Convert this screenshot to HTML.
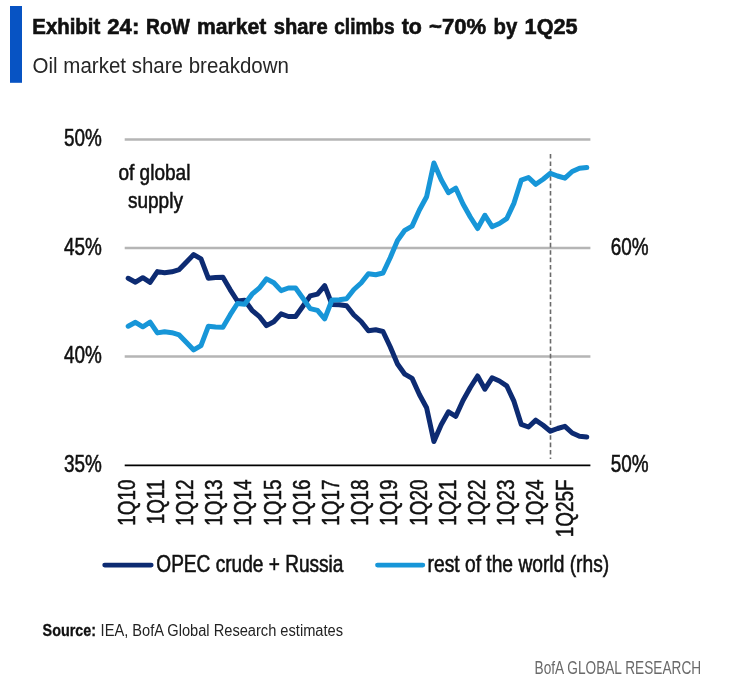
<!DOCTYPE html>
<html lang="en"><head><meta charset="utf-8"><title>Exhibit 24: RoW market share climbs to ~70% by 1Q25</title>
<style>
html,body{margin:0;padding:0;background:#fff;}
body{width:730px;height:698px;overflow:hidden;}
svg{display:block;font-family:"Liberation Sans",Arial,sans-serif;}
</style></head><body>
<svg width="730" height="698" viewBox="0 0 730 698">
<rect x="0" y="0" width="730" height="698" fill="#ffffff"/>
<rect x="10" y="6" width="12" height="76.8" fill="#0753c3"/>

<g font-weight="bold" font-size="21.5" fill="#111111" stroke="#111111" stroke-width="0.6">
<text x="32.3" y="33.8" textLength="68.0" lengthAdjust="spacingAndGlyphs">Exhibit</text>
<text x="107.3" y="33.8" textLength="32.0" lengthAdjust="spacingAndGlyphs">24:</text>
<text x="146.1" y="33.8" textLength="43.7" lengthAdjust="spacingAndGlyphs">RoW</text>
<text x="197.0" y="33.8" textLength="69.3" lengthAdjust="spacingAndGlyphs">market</text>
<text x="273.8" y="33.8" textLength="53.8" lengthAdjust="spacingAndGlyphs">share</text>
<text x="334.3" y="33.8" textLength="60.2" lengthAdjust="spacingAndGlyphs">climbs</text>
<text x="401.7" y="33.8" textLength="20.2" lengthAdjust="spacingAndGlyphs">to</text>
<text x="429.1" y="33.8" textLength="57.1" lengthAdjust="spacingAndGlyphs">~70%</text>
<text x="493.6" y="33.8" textLength="23.7" lengthAdjust="spacingAndGlyphs">by</text>
<text x="524.6" y="33.8" textLength="53.0" lengthAdjust="spacingAndGlyphs">1Q25</text>
</g>
<text x="32.6" y="73.2" font-size="21.8" fill="#262626" textLength="256.4" lengthAdjust="spacingAndGlyphs">Oil market share breakdown</text>
<line x1="124.7" x2="590.4" y1="139.5" y2="139.5" stroke="#b5b5b5" stroke-width="2.4"/>
<line x1="124.7" x2="590.4" y1="248.0" y2="248.0" stroke="#b5b5b5" stroke-width="2.4"/>
<line x1="124.7" x2="590.4" y1="356.5" y2="356.5" stroke="#b5b5b5" stroke-width="2.4"/>
<line x1="124.7" x2="590.4" y1="465.3" y2="465.3" stroke="#000" stroke-width="1.8"/>
<line x1="550.5" x2="550.5" y1="154" y2="459" stroke="#6a6a6a" stroke-width="1.6" stroke-dasharray="4.6,2.8"/>
<g fill="#111111" stroke="#111111" stroke-width="0.55">
<text transform="translate(64.0,146.3) scale(0.822,1)" font-size="23" text-anchor="start">50%</text>
<text transform="translate(64.0,254.8) scale(0.822,1)" font-size="23" text-anchor="start">45%</text>
<text transform="translate(64.0,363.3) scale(0.822,1)" font-size="23" text-anchor="start">40%</text>
<text transform="translate(64.0,471.9) scale(0.822,1)" font-size="23" text-anchor="start">35%</text>
<text transform="translate(610.8,254.8) scale(0.822,1)" font-size="23" text-anchor="start">60%</text>
<text transform="translate(610.8,471.9) scale(0.822,1)" font-size="23" text-anchor="start">50%</text>
<text transform="translate(154.4,179.5) scale(0.885,1)" font-size="21.5" text-anchor="middle">of global</text>
<text transform="translate(155.4,208.4) scale(0.885,1)" font-size="21.5" text-anchor="middle">supply</text>
<text transform="translate(134.6,479.6) rotate(-90) scale(0.82,1)" font-size="23" text-anchor="end">1Q10</text>
<text transform="translate(163.8,479.6) rotate(-90) scale(0.82,1)" font-size="23" text-anchor="end">1Q11</text>
<text transform="translate(193.0,479.6) rotate(-90) scale(0.82,1)" font-size="23" text-anchor="end">1Q12</text>
<text transform="translate(222.2,479.6) rotate(-90) scale(0.82,1)" font-size="23" text-anchor="end">1Q13</text>
<text transform="translate(251.4,479.6) rotate(-90) scale(0.82,1)" font-size="23" text-anchor="end">1Q14</text>
<text transform="translate(280.6,479.6) rotate(-90) scale(0.82,1)" font-size="23" text-anchor="end">1Q15</text>
<text transform="translate(309.8,479.6) rotate(-90) scale(0.82,1)" font-size="23" text-anchor="end">1Q16</text>
<text transform="translate(339.0,479.6) rotate(-90) scale(0.82,1)" font-size="23" text-anchor="end">1Q17</text>
<text transform="translate(368.2,479.6) rotate(-90) scale(0.82,1)" font-size="23" text-anchor="end">1Q18</text>
<text transform="translate(397.4,479.6) rotate(-90) scale(0.82,1)" font-size="23" text-anchor="end">1Q19</text>
<text transform="translate(426.6,479.6) rotate(-90) scale(0.82,1)" font-size="23" text-anchor="end">1Q20</text>
<text transform="translate(455.8,479.6) rotate(-90) scale(0.82,1)" font-size="23" text-anchor="end">1Q21</text>
<text transform="translate(485.0,479.6) rotate(-90) scale(0.82,1)" font-size="23" text-anchor="end">1Q22</text>
<text transform="translate(514.2,479.6) rotate(-90) scale(0.82,1)" font-size="23" text-anchor="end">1Q23</text>
<text transform="translate(543.4,479.6) rotate(-90) scale(0.82,1)" font-size="23" text-anchor="end">1Q24</text>
<text transform="translate(572.6,479.6) rotate(-90) scale(0.82,1)" font-size="23" text-anchor="end">1Q25F</text>
<text transform="translate(156.3,572.3) scale(0.83,1)" font-size="23" text-anchor="start">OPEC crude + Russia</text>
<text transform="translate(427.6,572.3) scale(0.836,1)" font-size="23" text-anchor="start">rest of the world (rhs)</text>
</g>
<polyline points="128.2,278.3 135.5,282.2 142.8,277.7 150.1,282.3 157.4,271.6 164.6,272.7 171.9,271.8 179.2,269.6 186.5,262.0 193.7,254.6 201.0,258.9 208.3,278.2 215.6,277.5 222.9,277.3 230.1,289.6 237.4,301.0 244.7,300.2 252.0,310.3 259.2,316.3 266.5,325.6 273.8,321.7 281.1,313.9 288.4,316.5 295.6,316.5 302.9,306.2 310.2,295.9 317.5,294.1 324.7,285.6 332.0,304.5 339.3,304.7 346.6,305.8 353.9,315.0 361.1,321.5 368.4,330.8 375.7,329.8 383.0,331.5 390.2,346.8 397.5,364.0 404.8,374.2 412.1,378.4 419.4,394.5 426.6,407.8 433.9,441.5 441.2,424.8 448.5,411.8 455.8,416.3 463.0,400.5 470.3,387.5 477.6,376.0 484.9,389.2 492.1,377.8 499.4,381.0 506.7,385.8 514.0,401.4 521.3,424.4 528.5,427.0 535.8,420.2 543.1,425.3 550.4,431.2 557.6,428.5 564.9,426.3 572.2,433.0 579.5,436.3 586.8,437.0" fill="none" stroke="#0d2b72" stroke-width="5" stroke-linejoin="round" stroke-linecap="round"/>
<polyline points="128.2,326.2 135.5,322.3 142.8,326.8 150.1,322.2 157.4,332.9 164.6,331.8 171.9,332.7 179.2,334.9 186.5,342.5 193.7,349.9 201.0,345.6 208.3,326.3 215.6,327.0 222.9,327.2 230.1,314.9 237.4,303.5 244.7,304.3 252.0,294.2 259.2,288.2 266.5,278.9 273.8,282.8 281.1,290.6 288.4,288.0 295.6,288.0 302.9,298.3 310.2,308.6 317.5,310.4 324.7,318.9 332.0,300.0 339.3,299.8 346.6,298.7 353.9,289.5 361.1,283.0 368.4,273.7 375.7,274.7 383.0,273.0 390.2,257.7 397.5,240.5 404.8,230.3 412.1,226.1 419.4,210.0 426.6,196.7 433.9,163.0 441.2,179.7 448.5,192.7 455.8,188.2 463.0,204.0 470.3,217.0 477.6,228.5 484.9,215.3 492.1,226.7 499.4,223.5 506.7,218.7 514.0,203.1 521.3,180.1 528.5,177.5 535.8,184.3 543.1,179.2 550.4,173.3 557.6,176.0 564.9,178.2 572.2,171.5 579.5,168.2 586.8,167.5" fill="none" stroke="#1796d8" stroke-width="5" stroke-linejoin="round" stroke-linecap="round"/>
<line x1="104.7" x2="151.2" y1="565.1" y2="565.1" stroke="#0d2b72" stroke-width="4.8" stroke-linecap="round"/>
<line x1="377.5" x2="422.8" y1="565.1" y2="565.1" stroke="#1796d8" stroke-width="4.8" stroke-linecap="round"/>
<text x="42.6" y="635.5" font-size="16.4" font-weight="bold" fill="#111111" stroke="#111111" stroke-width="0.3" textLength="53.5" lengthAdjust="spacingAndGlyphs">Source:</text>
<text x="100.6" y="635.5" font-size="16" fill="#222222" textLength="242.4" lengthAdjust="spacingAndGlyphs">IEA, BofA Global Research estimates</text>
<text x="534.6" y="673.8" font-size="18" fill="#6a6a6a" textLength="166.6" lengthAdjust="spacingAndGlyphs">BofA GLOBAL RESEARCH</text>
</svg>
</body></html>
